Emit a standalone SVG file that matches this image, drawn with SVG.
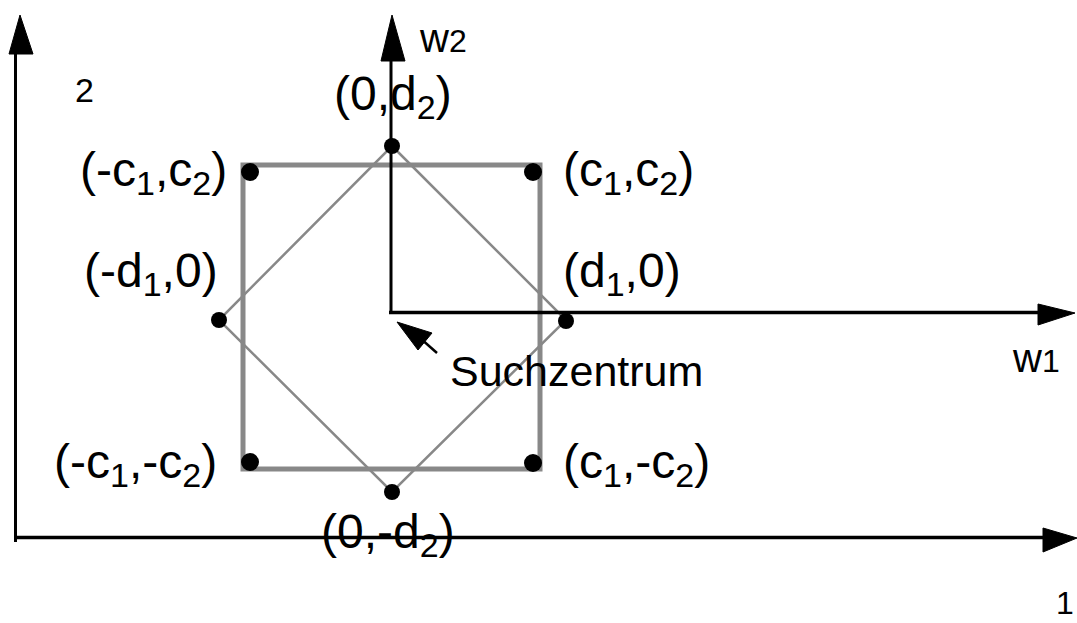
<svg xmlns="http://www.w3.org/2000/svg" width="1077" height="623" viewBox="0 0 1077 623">
<style>
.ax{stroke:#000;fill:none}
.ah{fill:#000;stroke:#000;stroke-width:1}
.lbl{font-family:"Liberation Sans",Arial,sans-serif;font-size:48px;fill:#000}
.sub{font-size:34px}
.cap{font-family:"Liberation Sans",Arial,sans-serif;font-size:43px;fill:#000}
.small{font-family:"Liberation Sans",Arial,sans-serif;font-size:32px;fill:#000}
.w{font-size:40px}
.dot{fill:#000}
</style>
<rect width="1077" height="623" fill="#fff"/>
<g id="shapes">
<rect id="square" x="243" y="165" width="297" height="304" fill="none" stroke="#888" stroke-width="5"/>
<polygon id="diamond" points="392,146 566,320 392,492 219,320" fill="none" stroke="#888" stroke-width="2.5"/>
</g>
<g id="connectors">
<line class="ax" x1="15.5" y1="542" x2="15.5" y2="54" stroke-width="3"/>
<polygon class="ah" points="20,15 9,54 33,54"/>
<line class="ax" x1="14" y1="537.5" x2="1043" y2="537.5" stroke-width="3.5"/>
<polygon class="ah" points="1077,538 1043,528 1043,552"/>
<line class="ax" x1="391" y1="312" x2="391" y2="61" stroke-width="3"/>
<polygon class="ah" points="392,15 381,61 405,61"/>
<line class="ax" x1="389" y1="312.5" x2="1038" y2="312.5" stroke-width="3.5"/>
<polygon class="ah" points="1075,313 1038,304 1038,325"/>
<line class="ax" x1="437" y1="353" x2="420" y2="338" stroke-width="2.5"/>
<polygon class="ah" points="397,322 432,333 418,350"/>
</g>
<g id="points">
<circle class="dot" cx="250" cy="172" r="9"/>
<circle class="dot" cx="533" cy="172" r="9"/>
<circle class="dot" cx="250" cy="462" r="9"/>
<circle class="dot" cx="533" cy="463" r="9"/>
<circle class="dot" cx="392" cy="146" r="8"/>
<circle class="dot" cx="219" cy="320" r="8"/>
<circle class="dot" cx="566" cy="321" r="8"/>
<circle class="dot" cx="392" cy="492" r="8"/>
</g>
<g id="labels">
<text class="lbl" x="334" y="110">(0,d<tspan class="sub" dy="9">2</tspan><tspan dy="-9">)</tspan></text>
<text class="lbl" x="80" y="186">(-c<tspan class="sub" dy="9">1</tspan><tspan dy="-9">,c</tspan><tspan class="sub" dy="9">2</tspan><tspan dy="-9">)</tspan></text>
<text class="lbl" x="563" y="186">(c<tspan class="sub" dy="9">1</tspan><tspan dy="-9">,c</tspan><tspan class="sub" dy="9">2</tspan><tspan dy="-9">)</tspan></text>
<text class="lbl" x="84" y="287">(-d<tspan class="sub" dy="9">1</tspan><tspan dy="-9">,0)</tspan></text>
<text class="lbl" x="563" y="287">(d<tspan class="sub" dy="9">1</tspan><tspan dy="-9">,0)</tspan></text>
<text class="cap" x="450" y="386">Suchzentrum</text>
<text class="lbl" x="54" y="478">(-c<tspan class="sub" dy="9">1</tspan><tspan dy="-9">,-c</tspan><tspan class="sub" dy="9">2</tspan><tspan dy="-9">)</tspan></text>
<text class="lbl" x="563" y="478">(c<tspan class="sub" dy="9">1</tspan><tspan dy="-9">,-c</tspan><tspan class="sub" dy="9">2</tspan><tspan dy="-9">)</tspan></text>
<text class="lbl" x="321" y="548">(0,-d<tspan class="sub" dy="9">2</tspan><tspan dy="-9">)</tspan></text>
<text class="small" x="420" y="52"><tspan class="w">w</tspan>2</text>
<text class="small" x="1013" y="372"><tspan class="w">w</tspan>1</text>
<text class="small" x="75" y="102" style="font-size:34px">2</text>
<text class="small" x="1056" y="614">1</text>
</g>
</svg>
